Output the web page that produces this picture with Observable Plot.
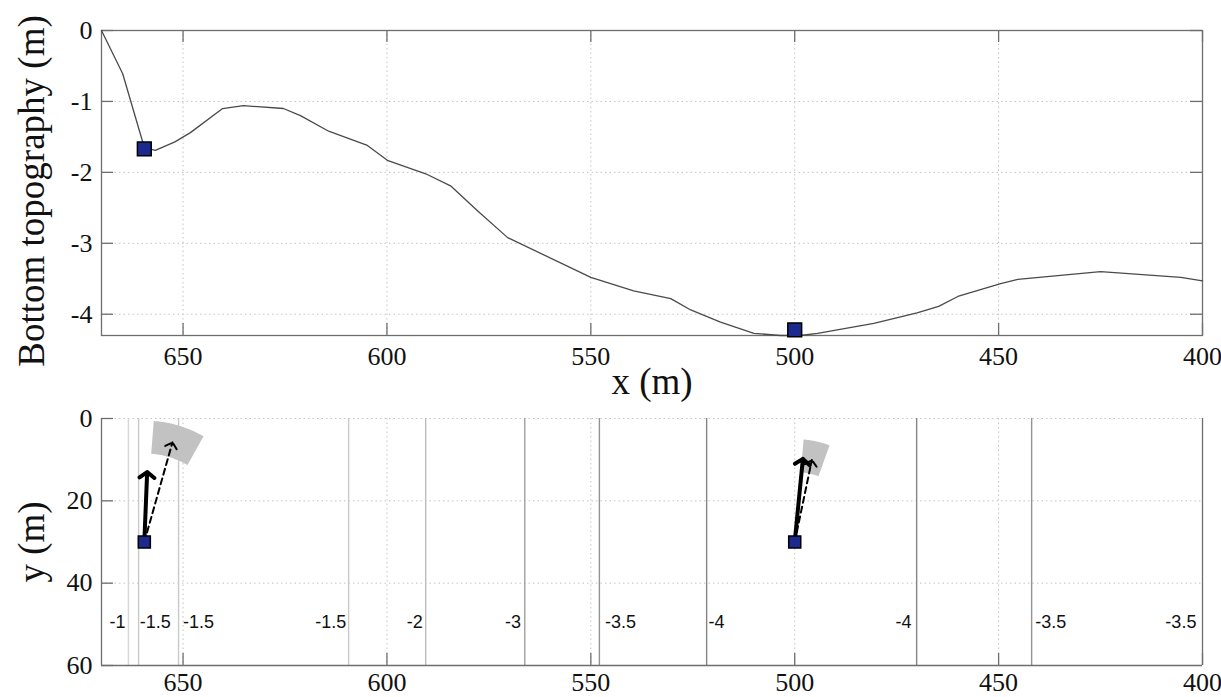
<!DOCTYPE html>
<html>
<head>
<meta charset="utf-8">
<script src="https://cdn.jsdelivr.net/npm/d3@7"></script>
<script src="https://cdn.jsdelivr.net/npm/@observablehq/plot@0.6"></script>
<style>
  html, body { margin: 0; padding: 0; background: #fff; }
  #chart { width: 1221px; height: 697px; overflow: hidden; }
  #chart svg { display: block; }
</style>
</head>
<body>
<div id="chart"></div>
<script>
// ---------- data ----------
const xTicks = [650, 600, 550, 500, 450, 400];
const xDomain = [670, 400];
const depthTicks = [0, -1, -2, -3, -4];
const depthDomain = [-4.3, 0];
const yTicks = [0, 20, 40, 60];
const yDomain = [0, 60];

// bottom profile
const profileX = [670, 664.8, 659.5, 656.8, 652, 648.2, 640.3, 635.2, 625.4, 621.2, 614.3, 604.8, 599.9, 590.5, 584.4, 577.8, 570.4, 550, 539.5, 530.4, 525.5, 518.2, 510, 503.5, 498.6, 494.4, 480.6, 470, 464.7, 460, 449.5, 445.3, 425, 405.3, 400];
const profileDepth = [0, -0.61, -1.65, -1.69, -1.57, -1.44, -1.10, -1.06, -1.10, -1.20, -1.42, -1.62, -1.83, -2.02, -2.19, -2.54, -2.92, -3.48, -3.67, -3.78, -3.94, -4.11, -4.27, -4.30, -4.30, -4.27, -4.13, -3.98, -3.89, -3.75, -3.57, -3.51, -3.40, -3.48, -3.53];

// stations
const stationX = [659.5, 500];
const stationDepth = [-1.67, -4.22];
const stationY = [30, 30];

// isobaths in plan view
const contourX = [663.4, 660.9, 651.1, 609.4, 590.5, 566.2, 547.9, 521.6, 470.1, 441.9];
const contourLevel = [-1, -1.5, -1.5, -1.5, -2, -3, -3.5, -4, -4, -3.5];

// isobath labels
const labelText = ["-1", "-1.5", "-1.5", "-1.5", "-2", "-3", "-3.5", "-4", "-4", "-3.5", "-3.5"];
const labelX = [666.1, 656.8, 646.2, 613.8, 593.2, 569.1, 542.7, 519.2, 473.3, 437.2, 405.3];
const labelY = [49.5, 49.5, 49.5, 49.5, 49.5, 49.5, 49.5, 49.5, 49.5, 49.5, 49.5];

// arrows: solid (observed) and dashed (modelled) tips
const solidTipX = [658.8, 498.0];
const solidTipY = [13.0, 9.8];
const dashedTipX = [652.6, 495.8];
const dashedTipY = [5.8, 10.1];

// uncertainty wedges (degrees from shoreward direction, metres)
const wedgeAngleCenter = [17, 12.5];
const wedgeAngleHalf = [12.5, 7.5];
const wedgeRMin = [21.5, 17];
const wedgeRMax = [29.5, 25];

// ---------- tables ----------
const profile = profileX.map((x, i) => ({x, d: profileDepth[i]}));
const stations = stationX.map((x, i) => ({x, d: stationDepth[i], y: stationY[i]}));
const contours = contourX.map((x, i) => ({x, level: contourLevel[i]}));
const labels = labelText.map((t, i) => ({t, x: labelX[i], y: labelY[i]}));
const solid = stations.map((s, i) => ({x1: s.x, y1: s.y, x2: solidTipX[i], y2: solidTipY[i]}));
const dashed = stations.map((s, i) => ({x1: s.x, y1: s.y, x2: dashedTipX[i], y2: dashedTipY[i]}));
const wedges = [];
stations.forEach((s, i) => {
  const a0 = (wedgeAngleCenter[i] - wedgeAngleHalf[i]) * Math.PI / 180;
  const a1 = (wedgeAngleCenter[i] + wedgeAngleHalf[i]) * Math.PI / 180;
  const n = 24;
  for (let k = 0; k <= n; k++) {
    const a = a0 + (a1 - a0) * k / n;
    wedges.push({w: i, x: s.x - wedgeRMax[i] * Math.sin(a), y: s.y - wedgeRMax[i] * Math.cos(a)});
  }
  for (let k = n; k >= 0; k--) {
    const a = a0 + (a1 - a0) * k / n;
    wedges.push({w: i, x: s.x - wedgeRMin[i] * Math.sin(a), y: s.y - wedgeRMin[i] * Math.cos(a)});
  }
});

// ---------- styles ----------
const W = 1221;
const axisColor = "#6e6e6e";
const gridColor = "#c4c4c4";
const gridDash = "1.5,3";
const serif = "'Liberation Serif', 'DejaVu Serif', serif";
const tickFont = 26;
const labelFont = 37;
const tickLen = 12;
const fmt = d => String(d);

// ---------- top panel ----------
const tm = {top: 30, bottom: 70, left: 101, right: 19, height: 405};
const tW = W - tm.left - tm.right, tH = tm.height - tm.top - tm.bottom;

const topChart = Plot.plot({
  width: W, height: tm.height,
  marginTop: tm.top, marginBottom: tm.bottom, marginLeft: tm.left, marginRight: tm.right,
  style: {fontFamily: serif, color: "#111", background: "white"},
  x: {domain: xDomain},
  y: {domain: depthDomain},
  marks: [
    Plot.ruleX(xTicks, {x: d => d, stroke: gridColor, strokeDasharray: gridDash}),
    Plot.ruleY(depthTicks, {y: d => d, stroke: gridColor, strokeDasharray: gridDash}),
    Plot.frame({stroke: axisColor, strokeWidth: 1.3}),
    Plot.tickX(xTicks, {x: d => d, insetTop: tH - tickLen, stroke: axisColor, strokeWidth: 1.3}),
    Plot.tickX(xTicks, {x: d => d, insetBottom: tH - tickLen, stroke: axisColor, strokeWidth: 1.3}),
    Plot.tickY(depthTicks, {y: d => d, insetRight: tW - tickLen, stroke: axisColor, strokeWidth: 1.3}),
    Plot.tickY(depthTicks, {y: d => d, insetLeft: tW - tickLen, stroke: axisColor, strokeWidth: 1.3}),
    Plot.axisX(xTicks, {anchor: "bottom", tickSize: 0, tickPadding: 11, tickFormat: fmt, label: null, fontSize: tickFont, fontFamily: serif, fill: "#111"}),
    Plot.axisY(depthTicks, {anchor: "left", tickSize: 0, tickPadding: 9, tickFormat: fmt, label: null, fontSize: tickFont, fontFamily: serif, fill: "#111"}),
    Plot.line(profile, {x: "x", y: "d", stroke: "#4a4a4a", strokeWidth: 1.3}),
    Plot.dot(stations, {x: "x", y: "d", symbol: "square", r: 7.8, fill: "#1b2a8c", stroke: "#000", strokeWidth: 1.5}),
    Plot.text(["Bottom topography (m)"], {frameAnchor: "left", textAnchor: "middle", lineAnchor: "middle", text: d => d, rotate: -90, dx: -69, dy: 8, fontSize: labelFont, fontFamily: serif, fill: "#111"}),
    Plot.text(["x (m)"], {frameAnchor: "bottom", textAnchor: "middle", lineAnchor: "middle", text: d => d, dy: 47, fontSize: labelFont, fontFamily: serif, fill: "#111"})
  ]
});

// ---------- bottom panel ----------
const bm = {top: 13, bottom: 32, left: 101, right: 19, height: 292};
const bW = W - bm.left - bm.right, bH = bm.height - bm.top - bm.bottom;

const bottomChart = Plot.plot({
  width: W, height: bm.height,
  marginTop: bm.top, marginBottom: bm.bottom, marginLeft: bm.left, marginRight: bm.right,
  style: {fontFamily: serif, color: "#111", background: "white"},
  x: {domain: xDomain},
  y: {domain: yDomain, reverse: true},
  color: {type: "linear", domain: [-4, -1], range: ["#858585", "#d6d6d6"]},
  marks: [
    Plot.ruleX(xTicks, {x: d => d, stroke: gridColor, strokeDasharray: gridDash}),
    Plot.ruleY(yTicks, {y: d => d, stroke: gridColor, strokeDasharray: gridDash}),
    Plot.ruleX(contours, {x: "x", stroke: "level", strokeWidth: 1.4}),
    Plot.ruleX(xDomain, {x: d => d, stroke: axisColor, strokeWidth: 1.3}),
    Plot.ruleY([yDomain[1]], {y: d => d, stroke: axisColor, strokeWidth: 1.3}),
    Plot.tickX(xTicks, {x: d => d, insetTop: bH - tickLen, stroke: axisColor, strokeWidth: 1.3}),
    Plot.tickY(yTicks, {y: d => d, insetRight: bW - tickLen, stroke: axisColor, strokeWidth: 1.3}),
    Plot.axisX(xTicks, {anchor: "bottom", tickSize: 0, tickPadding: 7, tickFormat: fmt, label: null, fontSize: tickFont, fontFamily: serif, fill: "#111"}),
    Plot.axisY(yTicks, {anchor: "left", tickSize: 0, tickPadding: 9, tickFormat: fmt, label: null, fontSize: tickFont, fontFamily: serif, fill: "#111"}),
    Plot.text(labels, {x: "x", y: "y", text: "t", fontFamily: "'Liberation Sans', Arial, sans-serif", fontSize: 18, fill: "#111"}),
    Plot.line(wedges, {x: "x", y: "y", z: "w", fill: "#c2c2c2", stroke: "none"}),
    Plot.arrow(dashed, {x1: "x1", y1: "y1", x2: "x2", y2: "y2", stroke: "#000", strokeWidth: 2, strokeDasharray: "6,4", headLength: 6, headAngle: 95}),
    Plot.arrow(solid, {x1: "x1", y1: "y1", x2: "x2", y2: "y2", stroke: "#000", strokeWidth: 4, headLength: 3.5, headAngle: 105}),
    Plot.dot(stations, {x: "x", y: "y", symbol: "square", r: 6.8, fill: "#1b2a8c", stroke: "#000", strokeWidth: 1.5}),
    Plot.text(["y (m)"], {frameAnchor: "left", textAnchor: "middle", lineAnchor: "middle", text: d => d, rotate: -90, dx: -69, fontSize: labelFont, fontFamily: serif, fill: "#111"})
  ]
});

const chart = document.getElementById("chart");
chart.appendChild(topChart);
chart.appendChild(bottomChart);
</script>
</body>
</html>
